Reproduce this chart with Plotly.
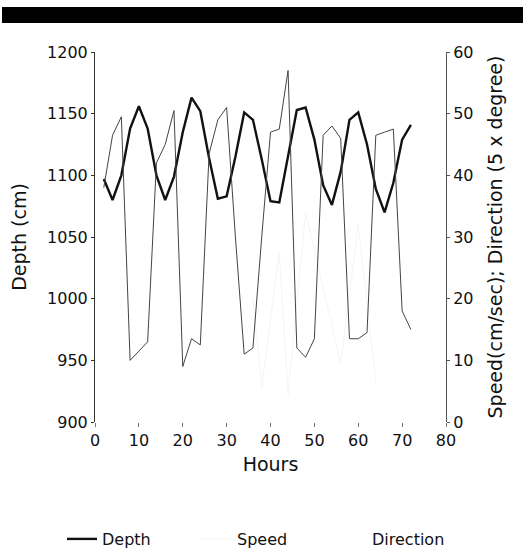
import plotly.graph_objects as go

# depth (cm), sampled every 2 hours
hours = [2, 4, 6, 8, 10, 12, 14, 16, 18, 20, 22, 24, 26, 28, 30, 32, 34, 36,
         38, 40, 42, 44, 46, 48, 50, 52, 54, 56, 58, 60, 62, 64, 66, 68, 70, 72]
depth = [1097, 1080, 1100, 1138, 1156, 1138, 1100, 1080, 1099, 1135, 1163, 1152,
         1114, 1081, 1083, 1115, 1151, 1145, 1113, 1079, 1078, 1115, 1153, 1155,
         1129, 1092, 1076, 1103, 1145, 1151, 1125, 1089, 1070, 1094, 1129, 1141]

# direction (5 x degree) on the right axis
direction = [38, 46.5, 49.5, 10, 11.5, 13, 42, 45, 50.5, 9, 13.5, 12.5,
             43.5, 49, 51, 30, 11, 12, 30, 47, 47.5, 57, 12, 10.5,
             13.5, 46.5, 48, 46, 13.5, 13.5, 14.5, 46.5, 47, 47.5, 18, 15]

# speed (cm/sec) - only faint fragments survive in the picture
speed_hours = [36, 38, 42, 44, 48, 56, 60, 64]
speed = [20, 5.7, 27.6, 4.4, 34, 9.5, 32, 6.3]

FONT = "DejaVu Sans"
W, H = 523, 560
L, R, T, B = 95, 77, 52, 138
pw, ph = W - L - R, H - T - B


def px(x):
    return (x - L) / pw


def py(y):
    return (H - B - y) / ph


fig = go.Figure()
fig.add_trace(go.Scatter(x=hours, y=depth, name="Depth", mode="lines",
                         line=dict(color="#111111", width=2.4)))
fig.add_trace(go.Scatter(x=speed_hours, y=speed, name="Speed", mode="lines",
                         yaxis="y2", line=dict(color="#f4f4f4", width=1)))
fig.add_trace(go.Scatter(x=hours, y=direction, name="Direction", mode="lines",
                         yaxis="y2", showlegend=False,
                         line=dict(color="#444444", width=1)))
fig.add_trace(go.Scatter(x=[None], y=[None], name="Direction", mode="lines",
                         yaxis="y2", line=dict(color="rgba(0,0,0,0)", width=1)))

fig.update_layout(
    width=W, height=H,
    margin=dict(l=L, r=R, t=T, b=B, autoexpand=False),
    paper_bgcolor="white", plot_bgcolor="white",
    font=dict(family=FONT, size=16, color="#111111"),
    showlegend=True,
    legend=dict(orientation="h", x=px(62), y=py(539), yanchor="middle",
                xanchor="left", entrywidth=90, entrywidthmode="pixels",
                font=dict(size=16), bgcolor="rgba(0,0,0,0)"),
    xaxis=dict(range=[0, 80], dtick=10, showgrid=False, zeroline=False,
               showline=False, ticks="outside", ticklen=4, tickcolor="#777777",
               ticklabelstandoff=0, automargin=False,
               title=dict(text="Hours", standoff=8)),
    yaxis=dict(range=[900, 1200], dtick=50, showgrid=False, zeroline=False,
               showline=True, linecolor="#333333", linewidth=1,
               ticks="outside", ticklen=3, tickcolor="#333333",
               automargin=False, title=dict(text="Depth (cm)", standoff=15)),
    yaxis2=dict(range=[0, 60], dtick=10, overlaying="y", side="right",
                showgrid=False, zeroline=False, showline=True,
                linecolor="#555555", linewidth=1, ticks="outside", ticklen=3,
                tickcolor="#555555", automargin=False,
                title=dict(text="Speed(cm/sec); Direction (5 x degree)", standoff=16)),
    shapes=[dict(type="rect", xref="paper", yref="paper",
                 x0=px(2), x1=px(525), y0=py(23), y1=py(7),
                 fillcolor="black", line=dict(width=0), layer="above")],
)

fig.write_html("out.html", config={"displayModeBar": False},
               post_script="document.body.style.margin='0';"
                           "document.body.style.overflow='hidden';")
